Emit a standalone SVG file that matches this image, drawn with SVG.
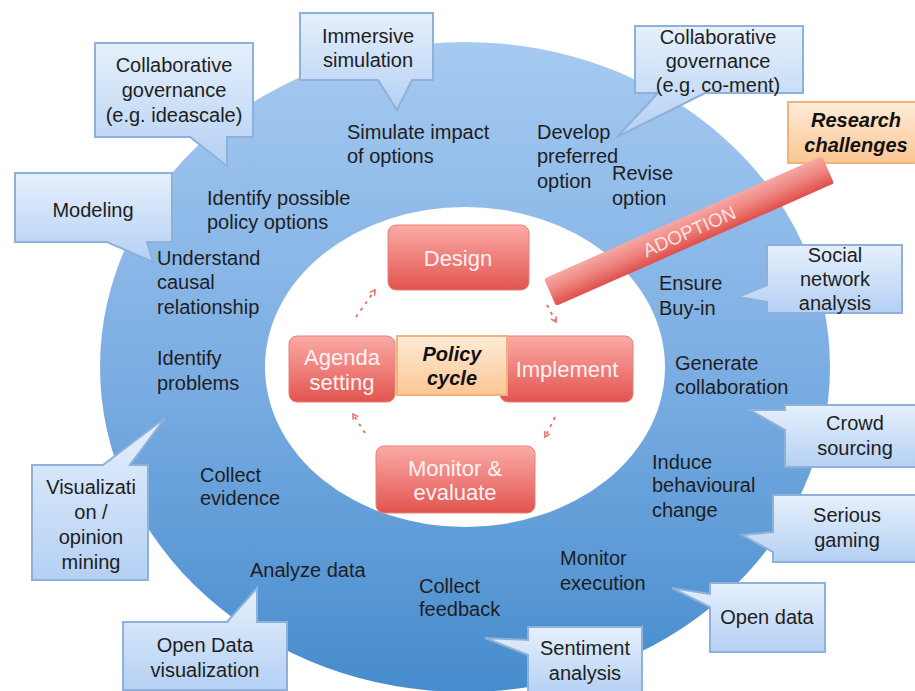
<svg xmlns="http://www.w3.org/2000/svg" width="915" height="691" viewBox="0 0 915 691">
<defs>
<linearGradient id="ringG" x1="0" y1="0" x2="0" y2="1">
<stop offset="0" stop-color="#A6CAF1"/>
<stop offset="0.5" stop-color="#7CAEE3"/>
<stop offset="1" stop-color="#468CCD"/>
</linearGradient>
<linearGradient id="callG" x1="0" y1="0" x2="0" y2="1">
<stop offset="0" stop-color="#E6F0FC"/>
<stop offset="1" stop-color="#B4D0F4"/>
</linearGradient>
<linearGradient id="redG" x1="0" y1="0" x2="0" y2="1">
<stop offset="0" stop-color="#FBABA6"/>
<stop offset="1" stop-color="#E2544F"/>
</linearGradient>
<linearGradient id="orG" x1="0" y1="0" x2="0" y2="1">
<stop offset="0" stop-color="#FEEBD8"/>
<stop offset="1" stop-color="#FBC793"/>
</linearGradient>
<linearGradient id="barG" x1="0" y1="0" x2="0" y2="1">
<stop offset="0" stop-color="#F6A9A4"/>
<stop offset="0.5" stop-color="#EE837E"/>
<stop offset="1" stop-color="#DF4F4A"/>
</linearGradient>
<marker id="ah" markerWidth="8" markerHeight="8" refX="6" refY="4" orient="auto" markerUnits="userSpaceOnUse">
<path d="M1,1 L6,4 L1,7" fill="none" stroke="#E57570" stroke-width="1.6"/>
</marker>
</defs>
<style>
.t{font-family:"Liberation Sans",Arial,sans-serif;font-size:20px;fill:#1E1E1E}
.c{text-anchor:middle}
.w{font-family:"Liberation Sans",Arial,sans-serif;font-size:22px;fill:#FFF2F2;text-anchor:middle}
.bi{font-family:"Liberation Sans",Arial,sans-serif;font-size:20px;font-weight:bold;font-style:italic;fill:#111;text-anchor:middle}
.call{fill:url(#callG);stroke:#8FB0D8;stroke-width:2}
.red{fill:url(#redG);stroke:#E8807B;stroke-width:1}
.dash{fill:none;stroke:#E57570;stroke-width:2;stroke-dasharray:3,5;marker-end:url(#ah)}
</style>
<rect width="915" height="691" fill="#FFFFFF"/>
<g id="ring">
<path d="M100,367 a365,325 0 1,0 730,0 a365,325 0 1,0 -730,0 Z M265,367 a200,160 0 1,0 400,0 a200,160 0 1,0 -400,0 Z" fill="url(#ringG)" fill-rule="evenodd"/>
<text class="t" x="347" y="139">Simulate impact</text>
<text class="t" x="347" y="163">of options</text>
<text class="t" x="207" y="205">Identify possible</text>
<text class="t" x="207" y="229">policy options</text>
<text class="t" x="157" y="265">Understand</text>
<text class="t" x="157" y="289">causal</text>
<text class="t" x="157" y="314">relationship</text>
<text class="t" x="537" y="139">Develop</text>
<text class="t" x="537" y="163">preferred</text>
<text class="t" x="537" y="188">option</text>
<text class="t" x="612" y="180">Revise</text>
<text class="t" x="612" y="205">option</text>
<text class="t" x="659" y="290">Ensure</text>
<text class="t" x="659" y="315">Buy-in</text>
<text class="t" x="157" y="365">Identify</text>
<text class="t" x="157" y="390">problems</text>
<text class="t" x="200" y="482">Collect</text>
<text class="t" x="200" y="505">evidence</text>
<text class="t" x="250" y="577">Analyze data</text>
<text class="t" x="419" y="593">Collect</text>
<text class="t" x="419" y="616">feedback</text>
<text class="t" x="560" y="565">Monitor</text>
<text class="t" x="560" y="590">execution</text>
<text class="t" x="652" y="469">Induce</text>
<text class="t" x="652" y="492">behavioural</text>
<text class="t" x="652" y="517">change</text>
<text class="t" x="675" y="370">Generate</text>
<text class="t" x="675" y="394">collaboration</text>
</g>
<g id="design">
<rect class="red" x="388" y="225" width="141" height="65" rx="8"/>
<text class="w" x="458" y="266">Design</text>
</g>
<g id="agenda">
<rect class="red" x="289" y="336" width="106" height="66" rx="8"/>
<text class="w" x="342" y="365">Agenda</text>
<text class="w" x="342" y="390">setting</text>
</g>
<g id="implement">
<rect class="red" x="500" y="336" width="133" height="66" rx="8"/>
<text class="w" x="567" y="377">Implement</text>
</g>
<g id="monitor">
<rect class="red" x="376" y="446" width="159" height="67" rx="8"/>
<text class="w" x="455" y="476">Monitor &amp;</text>
<text class="w" x="455" y="500">evaluate</text>
</g>
<g id="policy-cycle">
<rect x="397" y="336" width="110" height="59" fill="url(#orG)" stroke="#F2B27C" stroke-width="2"/>
<text class="bi" x="452" y="361">Policy</text>
<text class="bi" x="452" y="385">cycle</text>
</g>
<g id="connectors">
<path class="dash" d="M356,317 L375,290"/>
<path class="dash" d="M547,305 L556,322"/>
<path class="dash" d="M555,417 L545,437"/>
<path class="dash" d="M365,433 L353,414"/>
</g>
<g id="research-challenges">
<rect x="788" y="102" width="130" height="61" fill="url(#orG)" stroke="#F2B27C" stroke-width="2"/>
<text class="bi" x="856" y="127">Research</text>
<text class="bi" x="856" y="152">challenges</text>
</g>
<g id="adoption">
<g transform="translate(689,231) rotate(-23.8)">
<rect x="-152" y="-15" width="304" height="30" rx="3" fill="url(#barG)"/>
<text x="0" y="7" font-family="Liberation Sans, Arial, sans-serif" font-size="19" fill="#FCE3E1" text-anchor="middle">ADOPTION</text>
</g>
</g>
<g id="co-ideascale">
<path class="call" d="M95,43 H253 V137 H227 L227,166 L190,137 H95 Z"/>
<text class="t c" x="174" y="72">Collaborative</text>
<text class="t c" x="174" y="97">governance</text>
<text class="t c" x="174" y="122">(e.g. ideascale)</text>
</g>
<g id="immersive">
<path class="call" d="M300,13 H433 V80 H412 L397,110 L378,80 H300 Z"/>
<text class="t c" x="368" y="43">Immersive</text>
<text class="t c" x="368" y="67">simulation</text>
</g>
<g id="modeling">
<path class="call" d="M15,173 H172 V242 H147 L153,262 L107,242 H15 Z"/>
<text class="t c" x="93" y="217">Modeling</text>
</g>
<g id="co-coment">
<path class="call" d="M635,26 H803 V93 H705 L617,137 L658,93 H635 Z"/>
<text class="t c" x="718" y="44">Collaborative</text>
<text class="t c" x="718" y="68">governance</text>
<text class="t c" x="718" y="92">(e.g. co-ment)</text>
</g>
<g id="social">
<path class="call" d="M767,245 H902 V313 H767 V302 L738,297 L767,285 Z"/>
<text class="t c" x="835" y="262">Social</text>
<text class="t c" x="835" y="286">network</text>
<text class="t c" x="835" y="310">analysis</text>
</g>
<g id="crowd">
<path class="call" d="M785,405 H918 V467 H785 V430 L750,410 L785,410 Z"/>
<text class="t c" x="855" y="430">Crowd</text>
<text class="t c" x="855" y="455">sourcing</text>
</g>
<g id="serious">
<path class="call" d="M773,495 H918 V562 H773 V552 L742,535 L773,532 Z"/>
<text class="t c" x="847" y="522">Serious</text>
<text class="t c" x="847" y="547">gaming</text>
</g>
<g id="open-data">
<path class="call" d="M710,583 H825 V652 H710 V607 L672,588 L710,594 Z"/>
<text class="t c" x="767" y="624">Open data</text>
</g>
<g id="sentiment">
<path class="call" d="M528,627 H642 V695 H528 V655 L485,638 L528,640 Z"/>
<text class="t c" x="585" y="655">Sentiment</text>
<text class="t c" x="585" y="680">analysis</text>
</g>
<g id="open-data-vis">
<path class="call" d="M123,622 H227 L257,588 L257,622 H287 V690 H123 Z"/>
<text class="t c" x="205" y="652">Open Data</text>
<text class="t c" x="205" y="677">visualization</text>
</g>
<g id="vis-opinion">
<path class="call" d="M32,465 H103 L165,418 L130,465 H148 V580 H32 Z"/>
<text class="t c" x="91" y="494">Visualizati</text>
<text class="t c" x="91" y="519">on /</text>
<text class="t c" x="91" y="544">opinion</text>
<text class="t c" x="91" y="569">mining</text>
</g>
</svg>
